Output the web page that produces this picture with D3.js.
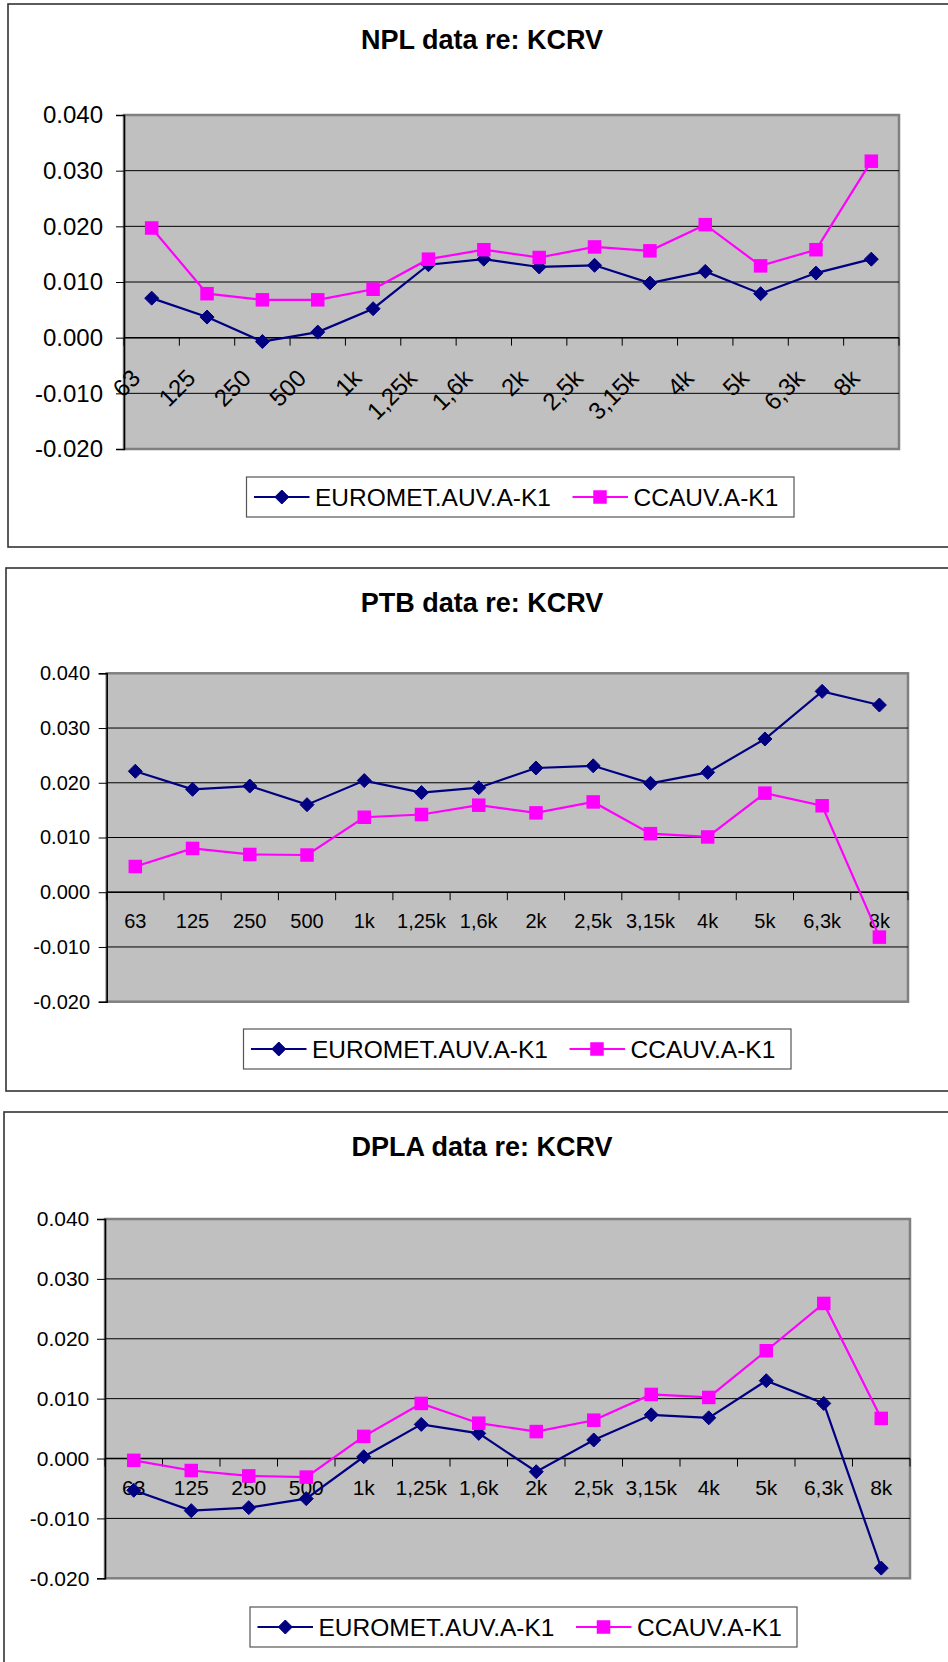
<!DOCTYPE html>
<html>
<head>
<meta charset="utf-8">
<script src="https://cdn.jsdelivr.net/npm/d3@7"></script>
<style>
html,body{margin:0;padding:0;background:#fff;}
svg{display:block;font-family:"Liberation Sans",Arial,sans-serif;}
</style>
</head>
<body>
<svg id="chart" width="948" height="1662"></svg>
<script>
// ---------- DATA ----------
const categories = ["63","125","250","500","1k","1,25k","1,6k","2k","2,5k","3,15k","4k","5k","6,3k","8k"];
const seriesNames = ["EUROMET.AUV.A-K1","CCAUV.A-K1"];
const yTicks = [-0.02,-0.01,0,0.01,0.02,0.03,0.04];
const titles = ["NPL data re: KCRV","PTB data re: KCRV","DPLA data re: KCRV"];

const nplEuromet = [0.0071,0.0037,-0.0007,0.0010,0.0052,0.0131,0.0141,0.0127,0.0130,0.0098,0.0119,0.0079,0.0116,0.0141];
const nplCcauv   = [0.0197,0.0079,0.0068,0.0068,0.0087,0.0141,0.0158,0.0144,0.0163,0.0156,0.0203,0.0129,0.0158,0.0317];

const ptbEuromet = [0.0221,0.0188,0.0194,0.0160,0.0204,0.0182,0.0191,0.0227,0.0231,0.0199,0.0219,0.0280,0.0367,0.0342];
const ptbCcauv   = [0.0047,0.0080,0.0069,0.0068,0.0137,0.0142,0.0159,0.0145,0.0165,0.0107,0.0101,0.0181,0.0158,-0.0082];

const dplaEuromet = [-0.0053,-0.0087,-0.0082,-0.0067,0.0003,0.0057,0.0042,-0.0022,0.0031,0.0073,0.0068,0.0130,0.0092,-0.0183];
const dplaCcauv   = [-0.0003,-0.0020,-0.0029,-0.0031,0.0037,0.0092,0.0059,0.0045,0.0064,0.0107,0.0102,0.0180,0.0259,0.0067];

// ---------- STYLE / LAYOUT ----------
const colors = ["#000080","#FF00FF"];
const svg = d3.select("#chart");

const layouts = [
  {box:[8,4,547], titleY:49, plot:[124,115,899,449], font:24, rotate:true, labelGap:21, legend:[246.5,477,794,517], series:[nplEuromet,nplCcauv]},
  {box:[6,568,1091], titleY:612, plot:[106.7,673.3,908,1001.7], font:20, rotate:false, labelGap:16.7, xLabelDy:36, legend:[243.5,1029,791,1069], series:[ptbEuromet,ptbCcauv]},
  {box:[4,1112,1700], titleY:1156, plot:[105,1219,910,1578.3], font:21, rotate:false, labelGap:15.7, xLabelDy:36.7, legend:[250,1607,797,1647], series:[dplaEuromet,dplaCcauv]}
];

const fmt3 = d3.format(".3f");
const tickFmt = d => fmt3(d).replace("\u2212", "-");

function diamond(g, cx, cy, r, color){
  g.append("path")
    .attr("d", `M${cx},${cy-r}L${cx+r},${cy}L${cx},${cy+r}L${cx-r},${cy}Z`)
    .attr("fill", color).attr("stroke", color).attr("stroke-width", 1);
}
function square(g, cx, cy, s, color){
  g.append("rect").attr("x", cx-s/2).attr("y", cy-s/2).attr("width", s).attr("height", s)
    .attr("fill", color);
}

layouts.forEach((L, i) => {
  const g = svg.append("g");
  // outer frame
  g.append("rect")
    .attr("x", L.box[0]).attr("y", L.box[1])
    .attr("width", 1000).attr("height", L.box[2]-L.box[1])
    .attr("fill", "#fff").attr("stroke", "#333").attr("stroke-width", 1.6);

  // title
  g.append("text").attr("x", 482).attr("y", L.titleY)
    .attr("text-anchor", "middle").attr("font-weight", "bold")
    .attr("font-size", 27).attr("fill", "#000").text(titles[i]);

  const [x0, y0, x1, y1] = L.plot;
  const x = d3.scaleBand().domain(categories).range([x0, x1]).padding(0);
  const y = d3.scaleLinear().domain([-0.02, 0.04]).range([y1, y0]);
  const cx = c => x(c) + x.bandwidth()/2;

  // plot area
  g.append("rect").attr("x", x0).attr("y", y0).attr("width", x1-x0).attr("height", y1-y0)
    .attr("fill", "#C0C0C0").attr("stroke", "#808080").attr("stroke-width", 2.5);

  // gridlines
  g.append("g").selectAll("line").data(yTicks.filter(t => t > -0.02 && t < 0.04)).join("line")
    .attr("x1", x0).attr("x2", x1).attr("y1", d => y(d)).attr("y2", d => y(d))
    .attr("stroke", "#000").attr("stroke-width", 1);

  // y axis
  const yAxis = d3.axisLeft(y).tickValues(yTicks).tickSize(8).tickPadding(L.labelGap - 8)
    .tickFormat(tickFmt);
  const ya = g.append("g").attr("transform", `translate(${x0},0)`).call(yAxis);
  ya.select(".domain").attr("stroke", "#000").attr("stroke-width", 1.5);
  ya.selectAll(".tick line").attr("stroke", "#000");
  ya.selectAll(".tick text").attr("font-size", L.font).attr("fill", "#000")
    .attr("font-family", "'Liberation Sans',Arial,sans-serif");

  // x axis at zero: line and ticks at category boundaries
  const zeroY = y(0);
  g.append("line").attr("x1", x0).attr("x2", x1).attr("y1", zeroY).attr("y2", zeroY)
    .attr("stroke", "#000").attr("stroke-width", 1.5);
  const bounds = categories.map(c => x(c)).concat([x1]);
  g.append("g").selectAll("line").data(bounds).join("line")
    .attr("x1", d => d).attr("x2", d => d).attr("y1", zeroY).attr("y2", zeroY + 8)
    .attr("stroke", "#000").attr("stroke-width", 1);

  // x labels
  const xl = g.append("g").selectAll("text").data(categories).join("text")
    .attr("font-size", L.font).attr("fill", "#000").text(d => d);
  if (L.rotate) {
    xl.attr("text-anchor", "end")
      .attr("transform", d => `translate(${cx(d) - 10},${zeroY + 42}) rotate(-45)`);
  } else {
    xl.attr("text-anchor", "middle").attr("x", d => cx(d)).attr("y", zeroY + L.xLabelDy);
  }

  // series
  const line = d3.line().x((d, k) => cx(categories[k])).y(d => y(d));
  L.series.forEach((vals, s) => {
    g.append("path").datum(vals).attr("d", line)
      .attr("fill", "none").attr("stroke", colors[s]).attr("stroke-width", 2.2);
  });
  L.series.forEach((vals, s) => {
    vals.forEach((v, k) => {
      if (s === 0) diamond(g, cx(categories[k]), y(v), 7, colors[0]);
      else square(g, cx(categories[k]), y(v), 13.5, colors[1]);
    });
  });

  // legend
  const [lx0, ly0, lx1, ly1] = L.legend;
  g.append("rect").attr("x", lx0).attr("y", ly0).attr("width", lx1-lx0).attr("height", ly1-ly0)
    .attr("fill", "#fff").attr("stroke", "#555").attr("stroke-width", 1.2);
  const lc = (ly0 + ly1)/2;
  const items = [{off:7.5, mk:35.3, tx:68.5}, {off:326, mk:353.5, tx:387}];
  items.forEach((it, s) => {
    g.append("line").attr("x1", lx0+it.off).attr("x2", lx0+it.off+55.5)
      .attr("y1", lc).attr("y2", lc).attr("stroke", colors[s]).attr("stroke-width", 2.2);
    if (s === 0) diamond(g, lx0+it.mk, lc, 7, colors[0]);
    else square(g, lx0+it.mk, lc, 13.5, colors[1]);
    g.append("text").attr("x", lx0+it.tx).attr("y", lc).attr("dy", "0.36em")
      .attr("font-size", 24.5).attr("fill", "#000").text(seriesNames[s]);
  });
});
</script>
</body>
</html>
